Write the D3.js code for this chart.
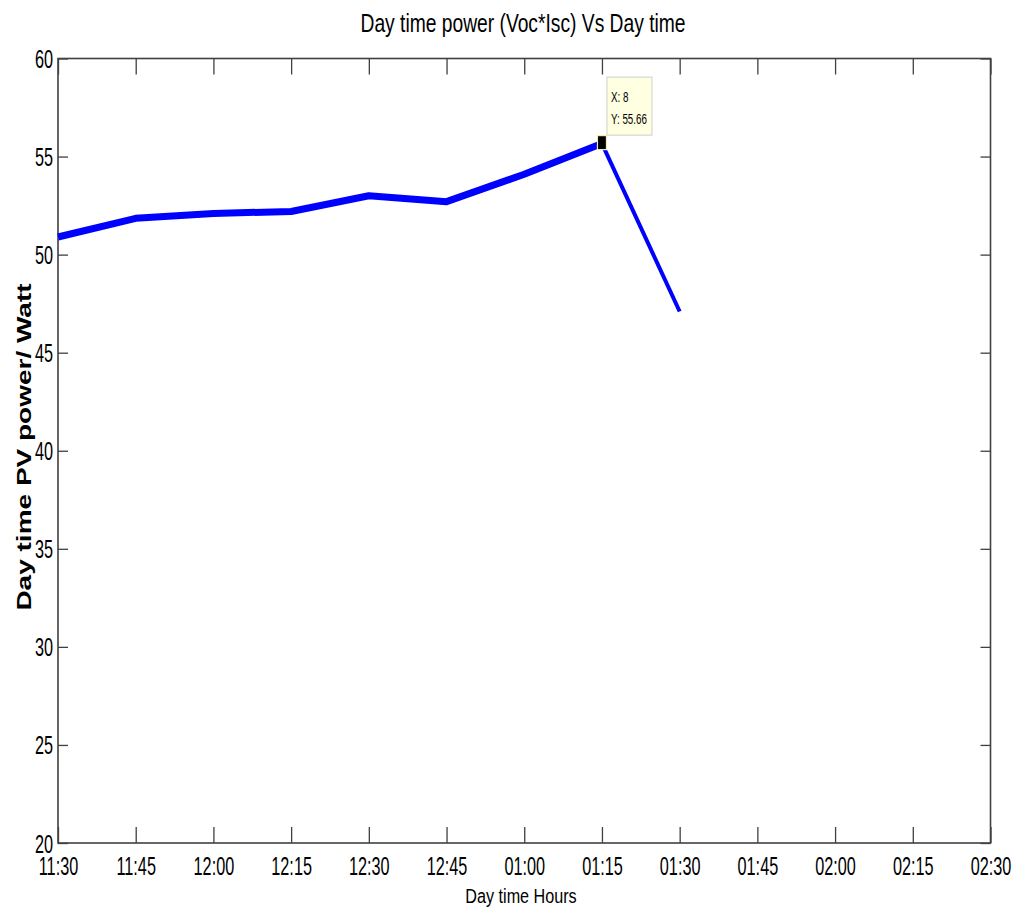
<!DOCTYPE html>
<html><head><meta charset="utf-8">
<script src="https://cdn.jsdelivr.net/npm/d3@7"></script>
<style>body{margin:0;background:#fff}svg{display:block}</style></head>
<body><svg id="c" width="1020" height="920"></svg>
<script>
const tickLabels = ["11:30","11:45","12:00","12:15","12:30","12:45","01:00","01:15","01:30","01:45","02:00","02:15","02:30"];
const xIndex = [1,2,3,4,5,6,7,8,9,10,11,12,13];
const pointIndex = [1,2,3,4,5,6,7,8,9];
const power = [50.9,51.85,52.1,52.2,53.0,52.7,54.1,55.66,47.1];
const yTicks = [20,25,30,35,40,45,50,55,60];
const tipIndex = 8;

const svg = d3.select("#c");
const L = 58, R = 990.5, T = 58.5, B = 843;
const x = d3.scaleLinear([1,13],[L,R]);
const y = d3.scaleLinear([20,60],[B,T]);
const font = "'Liberation Sans', Arial, sans-serif";
const axisCol = "#404040";

// axes
const gB = svg.append("g").attr("transform",`translate(0,${B})`)
  .call(d3.axisBottom(x).tickValues(xIndex).tickFormat((d,i)=>tickLabels[i]).tickSizeInner(-16).tickSizeOuter(0));
const gT = svg.append("g").attr("transform",`translate(0,${T})`)
  .call(d3.axisTop(x).tickValues(xIndex).tickFormat("").tickSizeInner(-16).tickSizeOuter(0));
const gL = svg.append("g").attr("transform",`translate(${L},0)`)
  .call(d3.axisLeft(y).tickValues(yTicks).tickFormat(d3.format("d")).tickSizeInner(-10).tickSizeOuter(0));
const gR = svg.append("g").attr("transform",`translate(${R},0)`)
  .call(d3.axisRight(y).tickValues(yTicks).tickFormat("").tickSizeInner(-10).tickSizeOuter(0));

[gB,gT,gL,gR].forEach(g=>{
  g.select(".domain").remove();
  g.selectAll(".tick line").attr("stroke",axisCol).attr("stroke-width",1.3);
});
gB.selectAll(".tick text").attr("y",32).attr("dy",0)
  .attr("font-family",font).attr("font-size",25).attr("fill","#000")
  .attr("transform","scale(0.65,1)");
gL.selectAll(".tick text").attr("x",-5/0.65).attr("dy","0.36em")
  .attr("font-family",font).attr("font-size",25).attr("fill","#000")
  .attr("transform","scale(0.65,1)");
gT.selectAll(".tick text").remove();
gR.selectAll(".tick text").remove();

svg.append("rect").attr("x",L).attr("y",T).attr("width",R-L).attr("height",B-T)
  .attr("fill","none").attr("stroke",axisCol).attr("stroke-width",1.6);

// data line
const pts = pointIndex.map((d,i)=>[d,power[i]]);
const line = d3.line().x(d=>x(d[0])).y(d=>y(d[1]));
svg.append("path").datum(pts.slice(0,8)).attr("d",line)
  .attr("fill","none").attr("stroke","#0000ff").attr("stroke-width",7)
  .attr("stroke-linejoin","round");
svg.append("path").datum(pts.slice(7)).attr("d",line)
  .attr("fill","none").attr("stroke","#0000ff").attr("stroke-width",4)
  .attr("stroke-linejoin","round");

// data tip
const tp = pts[tipIndex-1];
const px = x(tp[0]), py = y(tp[1]);
svg.append("rect").attr("x",px-4.5).attr("y",py-8).attr("width",9).attr("height",14)
  .attr("fill","#000").attr("stroke","#f3ecb8").attr("stroke-width",1.2);
svg.append("rect").attr("x",px+5).attr("y",py-66.5).attr("width",45).attr("height",58)
  .attr("fill","#ffffe1").attr("stroke","#cfcfc8").attr("stroke-width",1);
svg.append("text").attr("transform",`translate(${px+9},${py-42}) scale(0.7,1)`)
  .attr("font-family",font).attr("font-size",14).text("X: " + tp[0]);
svg.append("text").attr("transform",`translate(${px+9},${py-20}) scale(0.7,1)`)
  .attr("font-family",font).attr("font-size",14).text("Y: " + tp[1].toFixed(2));

// titles
svg.append("text").attr("transform",`translate(523,32) scale(0.77,1)`)
  .attr("text-anchor","middle").attr("font-family",font).attr("font-size",25)
  .text("Day time power (Voc*Isc) Vs Day time");
svg.append("text").attr("transform",`translate(521,903) scale(0.77,1)`)
  .attr("text-anchor","middle").attr("font-family",font).attr("font-size",21)
  .text("Day time Hours");
svg.append("text").attr("transform",`translate(31,447) scale(0.74,1) rotate(-90)`)
  .attr("text-anchor","middle").attr("font-family",font).attr("font-size",28).attr("font-weight","bold")
  .text("Day time PV power/ Watt");
</script></body></html>
